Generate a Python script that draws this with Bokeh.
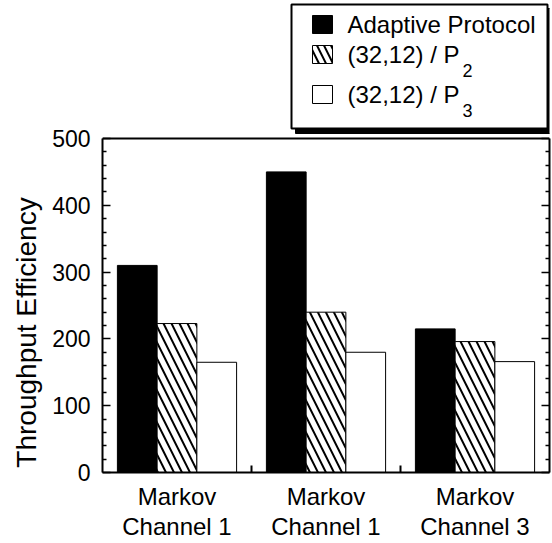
import numpy as np
from bokeh.plotting import figure
from bokeh.models import Range1d, FixedTicker, LinearAxis, Span
from bokeh.layouts import row
from bokeh.core.properties import value
from bokeh.embed import file_html
from bokeh.resources import INLINE

# ---- data ----
groups = ["Markov\nChannel 1", "Markov\nChannel 1", "Markov\nChannel 3"]
series_names = ["Adaptive Protocol", "(32,12) / P", "(32,12) / P"]
series_subs = ["", "2", "3"]
adaptive = [310, 450, 215]
p2_vals = [223, 240, 196]
p3_vals = [165, 180, 166]
y_ticks = [0, 100, 200, 300, 400, 500]
y_minor = [v for v in range(0, 501, 20) if v % 100]
y_title = "Throughput Efficiency"

FONT = "Liberation Sans"
series = [adaptive, p2_vals, p3_vals]
fills = ["black", "white", "white"]
hatches = [" ", "\\", " "]

H = 543
TW = 45                       # width of the y-title strip
FL, FR, FT, FB = 102, 549, 0, 472   # frame edges in page pixels
YMAX = 500

# ---- y-title strip ----
tf = figure(width=TW, height=H, x_range=Range1d(0, TW), y_range=Range1d(FB, FT),
            output_backend="svg", toolbar_location=None,
            x_axis_location=None, y_axis_location=None,
            min_border_left=0, min_border_right=0, min_border_top=FT, min_border_bottom=H - FB)
tf.outline_line_color = None
tf.xgrid.visible = False
tf.ygrid.visible = False
tf.text(x=[26], y=[332], text=[y_title], angle=np.pi / 2, text_font=value(FONT),
        text_font_size="28px", text_align="center", text_baseline="middle", text_color="black")

# ---- main figure ----
MW = 552 - TW
p = figure(width=MW, height=H, x_range=Range1d(0, 3),
           y_range=Range1d(0, YMAX * (FB - FT) / (FB - 138)),
           output_backend="svg", toolbar_location=None,
           min_border_left=FL - TW, min_border_right=552 - FR, min_border_top=FT,
           min_border_bottom=H - FB)
p.extra_x_ranges = {"px": Range1d(FL, FR)}
p.extra_y_ranges = {"px": Range1d(FB, FT)}
p.xgrid.visible = False
p.ygrid.visible = False
p.outline_line_color = None
p.add_layout(Span(location=YMAX, dimension="width", line_color="black", line_width=2))

centers = np.arange(len(groups)) + 0.5
bw = 0.8 / 3
for i, vals in enumerate(series):
    p.vbar(x=centers + (i - 1) * bw, top=vals, width=bw, bottom=0,
           fill_color=fills[i], line_color="black", line_width=1,
           hatch_pattern=hatches[i], hatch_color="black", hatch_scale=16, hatch_weight=2)

xa = p.xaxis[0]
xa.ticker = FixedTicker(ticks=list(centers), minor_ticks=[1, 2])
xa.major_label_overrides = {float(c): g for c, g in zip(centers, groups)}
xa.major_tick_in = 0
xa.major_tick_out = 0
xa.minor_tick_in = 7
xa.minor_tick_out = 0
xa.axis_line_width = 2
xa.minor_tick_line_width = 2
xa.major_label_text_font = FONT
xa.major_label_text_font_size = "24px"
xa.major_label_text_color = "black"
xa.major_label_text_line_height = 1.12
xa.major_label_standoff = 10

def style_y(ax):
    ax.ticker = FixedTicker(ticks=y_ticks, minor_ticks=y_minor)
    ax.bounds = (0, YMAX)
    ax.major_tick_in = 8
    ax.major_tick_out = 0
    ax.minor_tick_in = 4
    ax.minor_tick_out = 0
    ax.axis_line_width = 2
    ax.major_tick_line_width = 1.5
    ax.minor_tick_line_width = 1.5

ya = p.yaxis[0]
style_y(ya)
ya.major_label_text_font = FONT
ya.major_label_text_font_size = "23px"
ya.major_label_text_color = "black"
ya.major_label_standoff = 12

ra = LinearAxis()
style_y(ra)
ra.major_label_overrides = {t: "" for t in y_ticks}
ra.major_label_standoff = 0
p.add_layout(ra, "right")

# ---- legend, drawn in page-pixel coordinates above the plot box ----
px = dict(x_range_name="px", y_range_name="px")
p.quad(left=[295], right=[551], top=[8], bottom=[133], fill_color="black", line_color="black", **px)
p.quad(left=[291], right=[547], top=[4], bottom=[128], fill_color="white",
       line_color="black", line_width=2, **px)
row_y = [24, 54, 94]
for i in range(3):
    p.quad(left=[312], right=[332], top=[row_y[i] - 9], bottom=[row_y[i] + 9],
           fill_color=fills[i], line_color="black", line_width=1,
           hatch_pattern=hatches[i], hatch_color="black", hatch_scale=14, hatch_weight=2, **px)
p.text(x=[347] * 3, y=row_y, text=series_names, text_font=value(FONT),
       text_font_size="24px", text_baseline="middle", text_align="left", text_color="black", **px)
p.text(x=[462] * 2, y=[row_y[i] + 16 for i in (1, 2)], text=series_subs[1:], text_font=value(FONT),
       text_font_size="18px", text_baseline="middle", text_align="left", text_color="black", **px)

layout = row(tf, p, spacing=0)
open("out.html", "w").write(file_html(layout, INLINE))
